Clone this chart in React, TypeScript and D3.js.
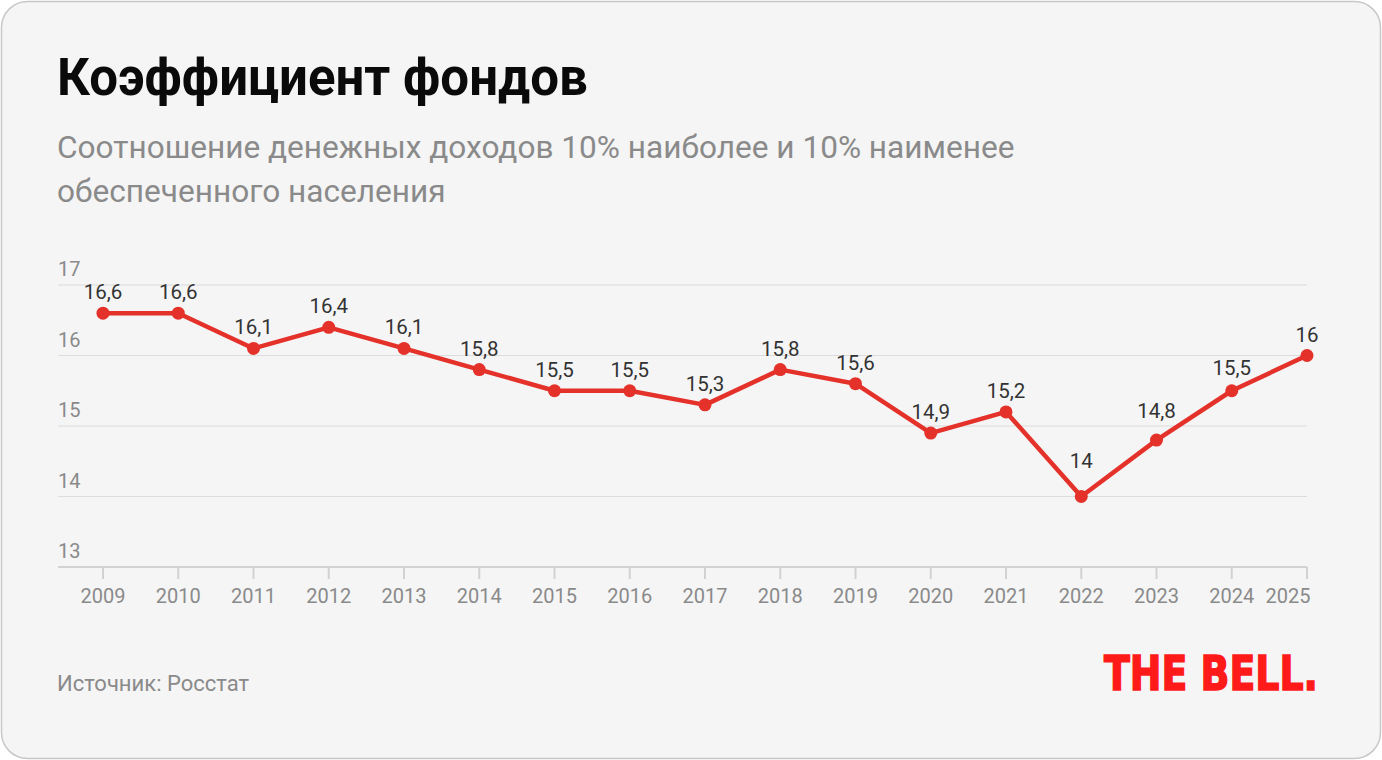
import React, { useEffect, useRef } from 'react';
import * as d3 from 'd3';

const years = [2009, 2010, 2011, 2012, 2013, 2014, 2015, 2016, 2017, 2018, 2019, 2020, 2021, 2022, 2023, 2024, 2025];
const values = [16.6, 16.6, 16.1, 16.4, 16.1, 15.8, 15.5, 15.5, 15.3, 15.8, 15.6, 14.9, 15.2, 14.0, 14.8, 15.5, 16.0];
// extra lift for labels that would sit on the line
const labelLift = [0, 0, 0, 0, 0, 0, 0, 0, 0, 0, 0, 0, 0, 15, 8, 2, 0];
const yTicks = [13, 14, 15, 16, 17];

const W = 1382;
const H = 760;
const FONT = 'Roboto, "Noto Sans", sans-serif';

const App: React.FC = () => {
  const svgRef = useRef<SVGSVGElement>(null);

  useEffect(() => {
    const svg = d3.select(svgRef.current);
    svg.selectAll('*').remove();

    // Card
    svg.append('rect')
      .attr('x', 1.5)
      .attr('y', 1.5)
      .attr('width', W - 3)
      .attr('height', H - 3)
      .attr('rx', 26)
      .attr('fill', '#f5f5f5')
      .attr('stroke', '#c8c8c8')
      .attr('stroke-width', 1.5);

    // Title + subtitle
    svg.append('text')
      .attr('x', 57)
      .attr('y', 95)
      .attr('font-family', FONT)
      .attr('font-weight', 700)
      .attr('font-size', '51px')
      .attr('fill', '#0a0a0a')
      .text('Коэффициент фондов');

    const sub = svg.append('text')
      .attr('font-family', FONT)
      .attr('font-size', '31.6px')
      .attr('fill', '#8a8a8a');
    sub.append('tspan').attr('x', 57).attr('y', 158)
      .text('Соотношение денежных доходов 10% наиболее и 10% наименее');
    sub.append('tspan').attr('x', 57).attr('y', 202)
      .text('обеспеченного населения');

    const x = d3.scaleLinear().domain([2009, 2025]).range([103, 1307]);
    const y = d3.scaleLinear().domain([13, 17]).range([567, 285]);
    const gridLeft = 58;

    const g = svg.append('g');

    // Grid lines + y labels
    g.selectAll('.grid')
      .data(yTicks)
      .enter()
      .append('line')
      .attr('x1', gridLeft)
      .attr('x2', x(2025))
      .attr('y1', d => y(d))
      .attr('y2', d => y(d))
      .attr('stroke', d => (d === 13 ? '#d2d2d2' : '#dcdcdc'))
      .attr('stroke-width', d => (d === 13 ? 2 : 1.2));

    g.selectAll('.ylab')
      .data(yTicks)
      .enter()
      .append('text')
      .attr('x', gridLeft)
      .attr('y', d => y(d) - 9)
      .attr('font-family', FONT)
      .attr('font-size', '20px')
      .attr('fill', '#8a8a8a')
      .text(d => d);

    // x ticks
    g.selectAll('.xtick')
      .data(years)
      .enter()
      .append('line')
      .attr('x1', d => x(d))
      .attr('x2', d => x(d))
      .attr('y1', y(13))
      .attr('y2', y(13) + 12)
      .attr('stroke', '#d2d2d2')
      .attr('stroke-width', 2);

    g.selectAll('.xlab')
      .data(years)
      .enter()
      .append('text')
      .attr('x', d => (d === 2025 ? x(d) - 19 : x(d)))
      .attr('y', 603)
      .attr('text-anchor', 'middle')
      .attr('font-family', FONT)
      .attr('font-size', '20px')
      .attr('fill', '#8a8a8a')
      .text(d => d);

    // Line
    const pts = years.map((yr, i) => ({ yr, v: values[i], lift: labelLift[i] }));
    const line = d3.line<{ yr: number; v: number }>()
      .x(d => x(d.yr))
      .y(d => y(d.v));

    g.append('path')
      .datum(pts)
      .attr('d', line)
      .attr('fill', 'none')
      .attr('stroke', '#e4312a')
      .attr('stroke-width', 4.5)
      .attr('stroke-linejoin', 'round');

    g.selectAll('.dot')
      .data(pts)
      .enter()
      .append('circle')
      .attr('cx', d => x(d.yr))
      .attr('cy', d => y(d.v))
      .attr('r', 6.5)
      .attr('fill', '#e4312a');

    g.selectAll('.vlab')
      .data(pts)
      .enter()
      .append('text')
      .attr('x', d => x(d.yr))
      .attr('y', d => y(d.v) - 14 - d.lift)
      .attr('text-anchor', 'middle')
      .attr('font-family', FONT)
      .attr('font-size', '20.5px')
      .attr('fill', '#333')
      .text(d => String(d.v).replace('.', ','));

    // Footer
    svg.append('text')
      .attr('x', 57)
      .attr('y', 691)
      .attr('font-family', FONT)
      .attr('font-size', '22px')
      .attr('fill', '#8a8a8a')
      .text('Источник: Росстат');

    svg.append('text')
      .attr('x', 1104)
      .attr('y', 690)
      .attr('font-family', '"Liberation Sans Narrow", "DejaVu Sans Condensed", Inter, sans-serif')
      .attr('font-weight', 900)
      .attr('font-size', '48px')
      .attr('fill', '#ff1a1a')
      .attr('textLength', 214)
      .attr('lengthAdjust', 'spacingAndGlyphs')
      .attr('stroke', '#ff1a1a')
      .attr('stroke-width', 1.5)
      .text('THE BELL.');
  }, []);

  return (
    <svg ref={svgRef} width={W} height={H} style={{ display: 'block', position: 'absolute', left: 0, top: 0 }} />
  );
};

export default App;
